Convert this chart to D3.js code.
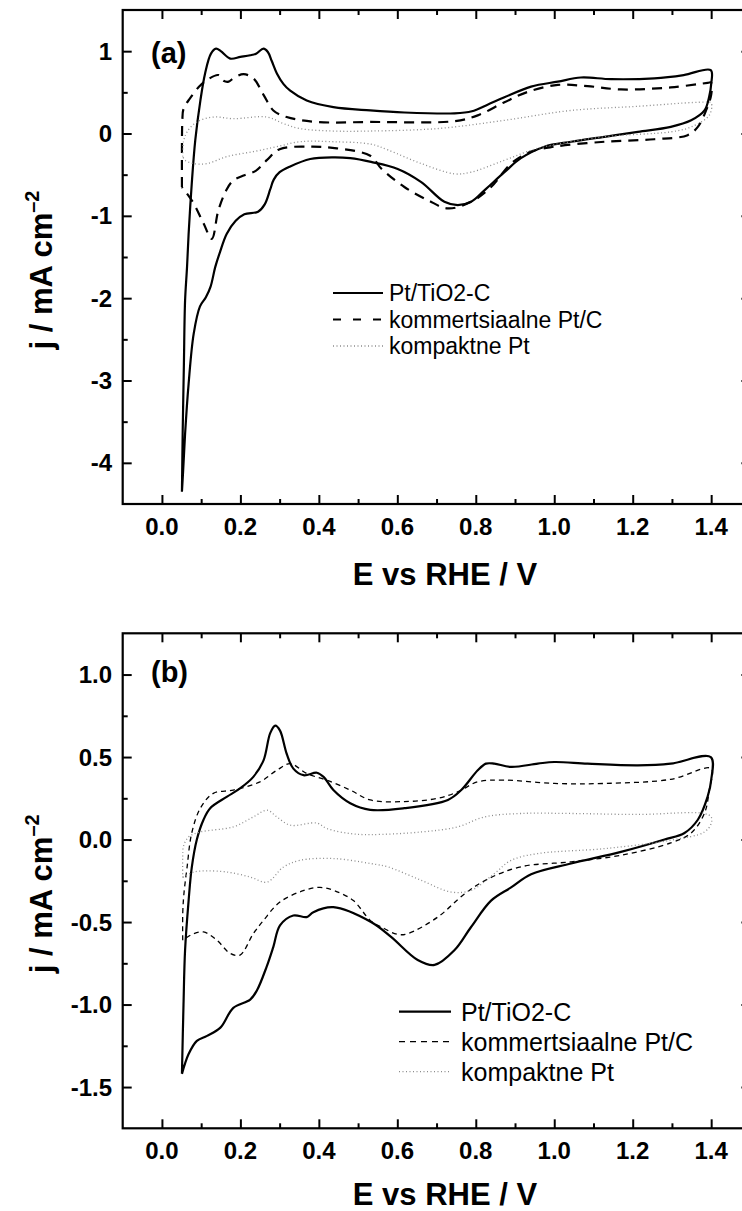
<!DOCTYPE html>
<html>
<head>
<meta charset="utf-8">
<script src="https://cdn.jsdelivr.net/npm/d3@7"></script>
<style>
body { margin: 0; background: #fff; }
text { font-family: "Liberation Sans", Arial, Helvetica, sans-serif; }
</style>
</head>
<body>
<div id="chart"></div>
<script>
const WIDTH = 742;
const HEIGHT = 1211;

// Series names
const seriesNames = ['Pt/TiO2-C', 'kommertsiaalne Pt/C', 'kompaktne Pt'];

// x axis (E vs RHE / V)
const xDomain = [-0.1, 1.5];
const xMajor = [0.0, 0.2, 0.4, 0.6, 0.8, 1.0, 1.2, 1.4];
const xMinor = [0.1, 0.3, 0.5, 0.7, 0.9, 1.1, 1.3];

// panel (a) y axis
const aDomain = [-4.5, 1.5];
const aMajor = [1, 0, -1, -2, -3, -4];
const aMinor = [0.5, -0.5, -1.5, -2.5, -3.5];

// panel (b) y axis
const bDomain = [-1.75, 1.25];
const bMajor = [1.0, 0.5, 0.0, -0.5, -1.0, -1.5];
const bMinor = [0.75, 0.25, -0.25, -0.75, -1.25];

// panel (a) curves, [E, j]
const aPtTiO2C = [
    [0.051,-4.35],[0.053,-3.6],[0.056,-2.8],[0.059,-2.03],[0.064,-1.62],[0.068,-1.22],
    [0.076,-0.61],[0.085,-0.08],[0.098,0.40],[0.110,0.73],[0.125,0.97],[0.138,1.03],
    [0.150,1.00],[0.174,0.91],[0.200,0.93],[0.225,0.95],[0.240,0.97],[0.259,1.03],
    [0.270,0.99],[0.280,0.88],[0.293,0.73],[0.310,0.60],[0.327,0.52],[0.369,0.40],
    [0.437,0.32],[0.531,0.28],[0.618,0.255],[0.746,0.245],[0.790,0.27],[0.830,0.35],
    [0.873,0.44],[0.941,0.57],[1.009,0.63],[1.068,0.68],[1.145,0.66],[1.255,0.67],
    [1.330,0.71],[1.399,0.77],[1.400,0.60],[1.395,0.45],[1.383,0.28],[1.349,0.16],
    [1.297,0.08],[1.213,0.02],[1.128,-0.04],[1.043,-0.10],[0.975,-0.16],[0.915,-0.30],
    [0.873,-0.47],[0.822,-0.69],[0.788,-0.83],[0.754,-0.87],[0.720,-0.83],[0.661,-0.59],
    [0.601,-0.43],[0.533,-0.345],[0.480,-0.30],[0.437,-0.29],[0.378,-0.31],[0.327,-0.40],
    [0.300,-0.47],[0.285,-0.56],[0.276,-0.68],[0.262,-0.86],[0.245,-0.95],[0.210,-0.98],
    [0.188,-1.06],[0.165,-1.22],[0.148,-1.44],[0.136,-1.62],[0.124,-1.86],[0.112,-1.99],
    [0.097,-2.10],[0.081,-2.43],[0.068,-3.04],[0.059,-3.65],[0.054,-4.1],[0.051,-4.35]
];
const aPtC = [
    [0.051,-0.65],[0.051,-0.2],[0.052,0.15],[0.055,0.30],[0.072,0.43],[0.095,0.57],
    [0.115,0.65],[0.144,0.71],[0.157,0.64],[0.170,0.63],[0.182,0.67],[0.208,0.72],
    [0.233,0.67],[0.259,0.47],[0.284,0.28],[0.318,0.20],[0.395,0.14],[0.531,0.14],
    [0.746,0.15],[0.805,0.22],[0.873,0.38],[0.932,0.505],[1.009,0.59],[1.085,0.575],
    [1.170,0.535],[1.297,0.56],[1.391,0.615],[1.400,0.62],[1.400,0.47],[1.387,0.28],
    [1.366,0.08],[1.340,-0.02],[1.255,-0.07],[1.128,-0.10],[1.000,-0.16],[0.941,-0.22],
    [0.890,-0.365],[0.839,-0.65],[0.788,-0.83],[0.729,-0.91],[0.678,-0.81],[0.618,-0.65],
    [0.559,-0.425],[0.531,-0.27],[0.446,-0.18],[0.378,-0.16],[0.300,-0.19],[0.268,-0.32],
    [0.240,-0.45],[0.208,-0.51],[0.182,-0.57],[0.165,-0.68],[0.144,-0.93],[0.127,-1.28],
    [0.106,-1.09],[0.081,-0.85],[0.064,-0.73],[0.051,-0.65]
];
const aPt = [
    [0.053,-0.28],[0.055,-0.1],[0.064,0.02],[0.089,0.14],[0.131,0.20],[0.182,0.18],
    [0.268,0.20],[0.310,0.12],[0.352,0.06],[0.437,0.03],[0.531,0.03],[0.703,0.06],
    [0.873,0.16],[1.043,0.28],[1.213,0.33],[1.383,0.38],[1.400,0.37],[1.395,0.22],
    [1.349,0.08],[1.297,0.02],[1.128,-0.04],[0.958,-0.18],[0.873,-0.325],[0.788,-0.47],
    [0.746,-0.49],[0.661,-0.365],[0.576,-0.20],[0.533,-0.13],[0.437,-0.10],[0.352,-0.10],
    [0.293,-0.16],[0.233,-0.22],[0.166,-0.28],[0.115,-0.365],[0.081,-0.365],[0.059,-0.325],
    [0.053,-0.28]
];

// panel (b) curves, [E, j]
const bPtTiO2C = [
    [0.051,-1.42],[0.055,-1.0],[0.059,-0.67],[0.068,-0.37],[0.076,-0.17],[0.089,0.0],
    [0.106,0.12],[0.123,0.19],[0.166,0.26],[0.199,0.31],[0.233,0.38],[0.259,0.48],
    [0.276,0.645],[0.289,0.69],[0.301,0.66],[0.318,0.52],[0.335,0.43],[0.361,0.39],
    [0.395,0.405],[0.412,0.38],[0.437,0.30],[0.480,0.22],[0.531,0.18],[0.618,0.19],
    [0.729,0.24],[0.763,0.30],[0.805,0.42],[0.826,0.46],[0.847,0.46],[0.890,0.44],
    [0.958,0.46],[1.000,0.47],[1.085,0.46],[1.213,0.45],[1.297,0.46],[1.399,0.50],
    [1.400,0.36],[1.391,0.26],[1.366,0.12],[1.332,0.04],[1.281,0.0],[1.170,-0.075],
    [1.043,-0.145],[0.941,-0.21],[0.890,-0.29],[0.839,-0.37],[0.788,-0.53],[0.746,-0.67],
    [0.695,-0.76],[0.652,-0.73],[0.584,-0.59],[0.533,-0.50],[0.437,-0.41],[0.386,-0.44],
    [0.369,-0.47],[0.335,-0.46],[0.301,-0.52],[0.284,-0.65],[0.267,-0.77],[0.242,-0.915],
    [0.225,-0.97],[0.182,-1.02],[0.149,-1.14],[0.115,-1.19],[0.089,-1.22],[0.068,-1.30],
    [0.051,-1.42]
];
const bPtC = [
    [0.053,-0.61],[0.053,-0.45],[0.056,-0.33],[0.064,-0.17],[0.076,0.04],[0.098,0.19],
    [0.131,0.28],[0.182,0.30],[0.250,0.35],[0.293,0.42],[0.327,0.46],[0.369,0.40],
    [0.420,0.36],[0.480,0.30],[0.531,0.24],[0.618,0.23],[0.703,0.25],[0.755,0.29],
    [0.805,0.35],[0.873,0.36],[1.000,0.34],[1.128,0.34],[1.297,0.365],[1.400,0.43],
    [1.395,0.30],[1.383,0.16],[1.349,0.04],[1.297,-0.02],[1.170,-0.095],[1.043,-0.135],
    [0.915,-0.165],[0.830,-0.24],[0.771,-0.33],[0.703,-0.47],[0.627,-0.57],[0.601,-0.575],
    [0.559,-0.53],[0.531,-0.49],[0.488,-0.37],[0.440,-0.31],[0.403,-0.29],[0.360,-0.31],
    [0.300,-0.38],[0.259,-0.49],[0.233,-0.57],[0.199,-0.70],[0.174,-0.69],[0.140,-0.61],
    [0.106,-0.56],[0.081,-0.57],[0.059,-0.60],[0.053,-0.61]
];
const bPt = [
    [0.053,-0.23],[0.053,-0.10],[0.055,-0.04],[0.068,0.016],[0.098,0.046],[0.182,0.077],
    [0.233,0.137],[0.268,0.178],[0.293,0.137],[0.327,0.087],[0.395,0.10],[0.420,0.067],
    [0.480,0.036],[0.531,0.03],[0.661,0.046],[0.754,0.077],[0.822,0.137],[0.915,0.158],
    [1.043,0.158],[1.213,0.152],[1.383,0.158],[1.400,0.137],[1.400,0.097],[1.383,0.046],
    [1.297,-0.004],[1.128,-0.055],[0.958,-0.085],[0.890,-0.126],[0.847,-0.207],[0.788,-0.308],
    [0.737,-0.318],[0.661,-0.247],[0.576,-0.166],[0.533,-0.146],[0.437,-0.115],[0.352,-0.126],
    [0.310,-0.166],[0.268,-0.258],[0.225,-0.227],[0.166,-0.197],[0.115,-0.19],[0.081,-0.197],
    [0.053,-0.23]
];

const svg = d3.select('#chart')
    .append('svg')
    .attr('width', WIDTH)
    .attr('height', HEIGHT);

const xScale = d3.scaleLinear().domain(xDomain).range([122.7, 750.4]);

function drawPanel(p) {
    const yScale = d3.scaleLinear().domain(p.yDomain).range([p.bottom, p.top]);
    const g = svg.append('g');

    // clip
    g.append('clipPath').attr('id', 'clip' + p.id)
        .append('rect')
        .attr('x', xScale(xDomain[0])).attr('y', p.top)
        .attr('width', xScale(xDomain[1]) - xScale(xDomain[0]))
        .attr('height', p.bottom - p.top);

    // curves
    const line = d3.line()
        .x(d => xScale(d[0]))
        .y(d => yScale(d[1]))
        .curve(d3.curveCatmullRom.alpha(0.5));

    p.series.forEach((s, i) => {
        g.append('path')
            .datum(s)
            .attr('clip-path', 'url(#clip' + p.id + ')')
            .attr('d', line)
            .attr('fill', 'none')
            .attr('stroke', p.styles[i].color)
            .attr('stroke-width', p.styles[i].width)
            .attr('stroke-dasharray', p.styles[i].dash)
            .attr('stroke-linejoin', 'round');
    });

    // axes, ticks pointing inward
    const axes = [
        [d3.axisBottom(xScale).tickValues(xMajor).tickSize(-9), `translate(0,${p.bottom})`],
        [d3.axisBottom(xScale).tickValues(xMinor).tickSize(-5), `translate(0,${p.bottom})`],
        [d3.axisTop(xScale).tickValues(xMajor).tickSize(-9), `translate(0,${p.top})`],
        [d3.axisTop(xScale).tickValues(xMinor).tickSize(-5), `translate(0,${p.top})`],
        [d3.axisLeft(yScale).tickValues(p.yMajor).tickSize(-9), `translate(${xScale(xDomain[0])},0)`],
        [d3.axisLeft(yScale).tickValues(p.yMinor).tickSize(-5), `translate(${xScale(xDomain[0])},0)`],
        [d3.axisRight(yScale).tickValues(p.yMajor).tickSize(-9), `translate(${xScale(xDomain[1])},0)`],
        [d3.axisRight(yScale).tickValues(p.yMinor).tickSize(-5), `translate(${xScale(xDomain[1])},0)`]
    ];
    axes.forEach(([ax, tr]) => {
        const a = g.append('g').attr('transform', tr).call(ax.tickFormat(''));
        a.select('.domain').remove();
        a.selectAll('line').attr('stroke', '#000').attr('stroke-width', 2);
        a.selectAll('text').remove();
    });

    // frame
    g.append('rect')
        .attr('x', xScale(xDomain[0])).attr('y', p.top)
        .attr('width', xScale(xDomain[1]) - xScale(xDomain[0]))
        .attr('height', p.bottom - p.top)
        .attr('fill', 'none').attr('stroke', '#000').attr('stroke-width', 2.2);

    // tick labels
    g.selectAll('.xl').data(xMajor).enter().append('text')
        .attr('x', d => xScale(d)).attr('y', p.bottom + 31)
        .attr('text-anchor', 'middle')
        .attr('font-size', 24).attr('font-weight', 'bold')
        .text(d => d.toFixed(1));

    g.selectAll('.yl').data(p.yMajor).enter().append('text')
        .attr('x', 112).attr('y', d => yScale(d) + 8.5)
        .attr('text-anchor', 'end')
        .attr('font-size', 24).attr('font-weight', 'bold')
        .text(p.yFormat);

    // axis titles
    g.append('text')
        .attr('x', 445).attr('y', p.bottom + p.titleDy)
        .attr('text-anchor', 'middle')
        .attr('font-size', 31).attr('font-weight', 'bold')
        .text('E vs RHE / V');

    const yt = g.append('text')
        .attr('transform', `translate(52,${(p.top + p.bottom) / 2 + 13}) rotate(-90)`)
        .attr('text-anchor', 'middle')
        .attr('font-size', 31).attr('font-weight', 'bold');
    yt.append('tspan').text('j / mA cm');
    yt.append('tspan').attr('font-size', 20).attr('dy', -13).text('\u20132');

    // panel label
    g.append('text')
        .attr('x', 151).attr('y', p.top + p.labelDy)
        .attr('font-size', 29).attr('font-weight', 'bold')
        .text(p.label);

    // legend
    const lg = p.legend;
    seriesNames.forEach((name, i) => {
        const yy = lg.y + i * lg.step;
        g.append('line')
            .attr('x1', lg.x1).attr('x2', lg.x2).attr('y1', yy).attr('y2', yy)
            .attr('stroke', p.styles[i].color)
            .attr('stroke-width', p.styles[i].width)
            .attr('stroke-dasharray', lg.dash[i]);
        g.append('text')
            .attr('x', lg.tx).attr('y', yy + lg.fs * 0.36)
            .attr('font-size', lg.fs)
            .text(name);
    });
}

drawPanel({
    id: 'a', top: 10, bottom: 504,
    yDomain: aDomain, yMajor: aMajor, yMinor: aMinor,
    yFormat: d => String(d),
    series: [aPtTiO2C, aPtC, aPt],
    styles: [
        { color: '#000', width: 2.2, dash: null },
        { color: '#000', width: 2.2, dash: '10,7' },
        { color: '#8c8c8c', width: 1.3, dash: '1,2.5' }
    ],
    label: '(a)', labelDy: 53, titleDy: 81,
    legend: { x1: 333, x2: 383, tx: 389, y: 293, step: 26.5, fs: 23,
              dash: [null, '8,12', '1,2.5'] }
});

drawPanel({
    id: 'b', top: 633.3, bottom: 1128.3,
    yDomain: bDomain, yMajor: bMajor, yMinor: bMinor,
    yFormat: d => d.toFixed(1),
    series: [bPtTiO2C, bPtC, bPt],
    styles: [
        { color: '#000', width: 2.2, dash: null },
        { color: '#000', width: 1.3, dash: '5,4' },
        { color: '#8c8c8c', width: 1.3, dash: '1,2.5' }
    ],
    label: '(b)', labelDy: 49, titleDy: 77,
    legend: { x1: 399, x2: 451, tx: 461, y: 1011.7, step: 30, fs: 25,
              dash: [null, '6,5', '1,2.5'] }
});
</script>
</body>
</html>
